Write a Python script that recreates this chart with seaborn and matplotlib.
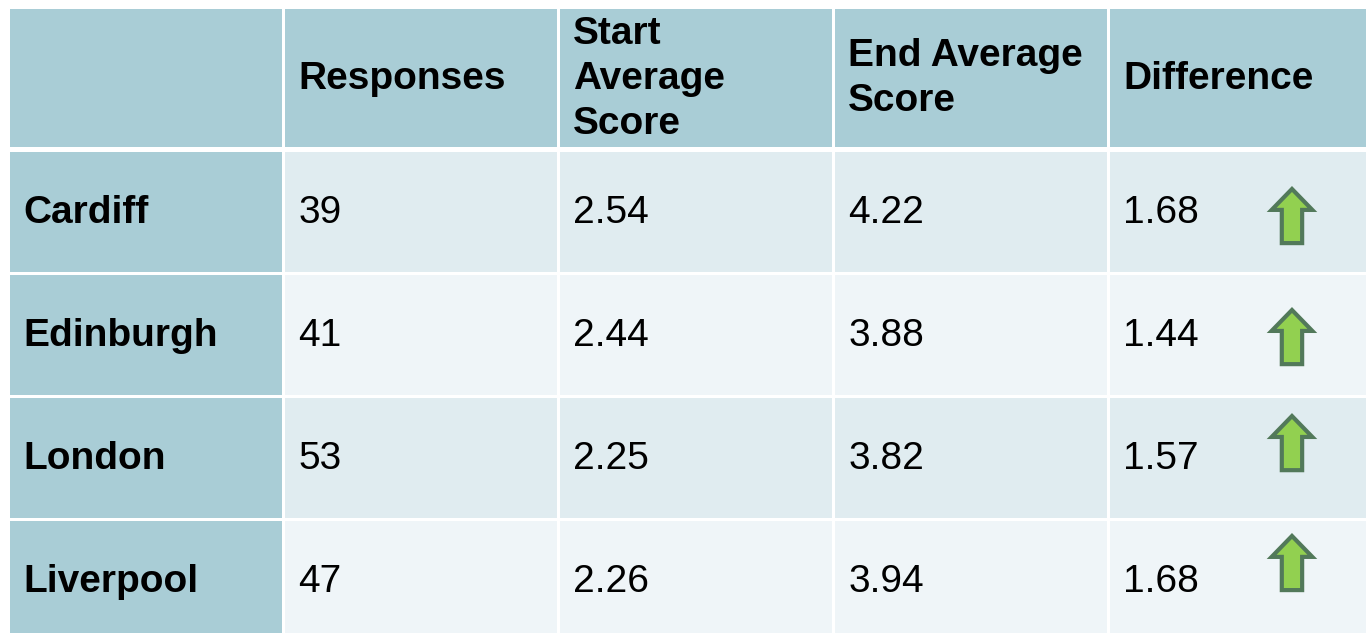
import numpy as np
import matplotlib
matplotlib.use("Agg")
import matplotlib.pyplot as plt
from matplotlib.colors import ListedColormap
from matplotlib.patches import Polygon
import seaborn as sns

# table values
cities = ["Cardiff", "Edinburgh", "London", "Liverpool"]
responses = [39, 41, 53, 47]
start_avg = [2.54, 2.44, 2.25, 2.26]
end_avg = [4.22, 3.88, 3.82, 3.94]
difference = [1.68, 1.44, 1.57, 1.68]
headers = ["", "Responses", "Start\nAverage\nScore", "End Average\nScore", "Difference"]

sns.set_theme(style="white")
plt.rcParams["font.family"] = ["Liberation Sans", "DejaVu Sans"]

W, H = 1366, 633
fig = plt.figure(figsize=(W / 100, H / 100), dpi=100)
fig.patch.set_facecolor("white")

# teal for header / first column, two light stripes for body rows
cmap = ListedColormap(["#A9CDD6", "#E0ECF0", "#EFF5F8"])
lw = 3 * 72 / 100
col_w = 275

# header row
ax_h = fig.add_axes([8 / W, (H - 148) / H, 5 * col_w / W, 141 / H])
sns.heatmap(np.zeros((1, 5)), cmap=cmap, vmin=0, vmax=2, cbar=False,
            linewidths=lw, linecolor="white", xticklabels=False,
            yticklabels=False, ax=ax_h)
for j, h in enumerate(headers):
    ax_h.text(j + 0.055, 0.51, h, ha="left", va="center", fontsize=28,
              fontweight="bold", color="black", linespacing=1.32)

# body rows
body = np.zeros((len(cities), 5))
for i in range(len(cities)):
    body[i, 1:] = 1 if i % 2 == 0 else 2
ax_b = fig.add_axes([8 / W, (H - 150 - 4 * 123) / H, 5 * col_w / W, 4 * 123 / H])
sns.heatmap(body, cmap=cmap, vmin=0, vmax=2, cbar=False,
            linewidths=lw, linecolor="white", xticklabels=False,
            yticklabels=False, ax=ax_b)

arrow_top = [0.317, 0.301, 0.163, 0.138]
for i, city in enumerate(cities):
    row = [city, str(responses[i]), f"{start_avg[i]:.2f}",
           f"{end_avg[i]:.2f}", f"{difference[i]:.2f}"]
    for j, txt in enumerate(row):
        ax_b.text(j + 0.055, i + 0.51, txt, ha="left", va="center",
                  fontsize=28, fontweight="bold" if j == 0 else "normal",
                  color="black")
    # green up arrow in the difference column
    if difference[i] > 0:
        cx = 4.669
        top = i + arrow_top[i]
        bot = top + 0.44
        shoulder = top + 0.17
        hw, sw = 0.074, 0.037
        pts = [(cx, top), (cx + hw, shoulder), (cx + sw, shoulder),
               (cx + sw, bot), (cx - sw, bot), (cx - sw, shoulder),
               (cx - hw, shoulder)]
        ax_b.add_patch(Polygon(pts, closed=True, facecolor="#92D050",
                               edgecolor="#52795A", linewidth=3.0,
                               joinstyle="miter", zorder=5))

fig.savefig("out.png", dpi=100, facecolor="white")
